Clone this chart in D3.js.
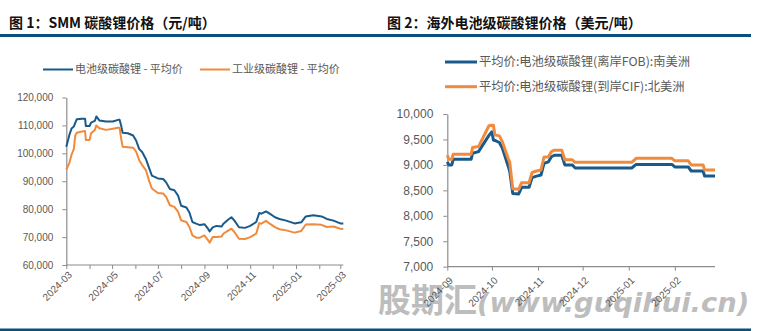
<!DOCTYPE html>
<html>
<head>
<meta charset="utf-8">
<script src="https://cdn.jsdelivr.net/npm/d3@7"></script>
<style>
  html, body { margin: 0; padding: 0; background: #fff; }
  svg { display: block; }
</style>
</head>
<body>
<svg id="chart" width="779" height="331"></svg>
<script>
// ---- Figure 1: SMM lithium carbonate prices (CNY/t) ----
const cnDates = [
  "2024-03-01","2024-03-05","2024-03-08","2024-03-11","2024-03-13","2024-03-15","2024-03-22","2024-03-26",
  "2024-03-27","2024-04-01","2024-04-03","2024-04-08","2024-04-10","2024-04-14","2024-04-23","2024-05-02",
  "2024-05-09","2024-05-11","2024-05-13","2024-05-15","2024-05-22","2024-05-29","2024-06-02","2024-06-06",
  "2024-06-10","2024-06-15","2024-06-19","2024-06-23","2024-07-01","2024-07-08","2024-07-12","2024-07-17",
  "2024-07-23","2024-07-28","2024-08-01","2024-08-08","2024-08-12","2024-08-16","2024-08-21","2024-08-26",
  "2024-09-01","2024-09-06","2024-09-08","2024-09-12","2024-09-17","2024-09-24","2024-09-26","2024-10-02",
  "2024-10-07","2024-10-11","2024-10-17","2024-10-25","2024-11-01","2024-11-09","2024-11-13","2024-11-16",
  "2024-11-22","2024-11-27","2024-12-04","2024-12-10","2024-12-19","2024-12-30","2025-01-08","2025-01-14",
  "2025-01-24","2025-02-04","2025-02-11","2025-02-20","2025-03-01","2025-03-05"
];
const cnBattery = [
  102400,106500,108900,109600,111000,112200,112400,112400,
  109800,109800,111000,111600,113200,111800,111400,111400,
  112000,112000,110000,107400,107200,106400,104600,101600,
  100500,98000,95000,92000,91000,90800,89600,87200,
  86800,84800,81200,80600,78800,75400,74800,74300,
  74600,72900,72000,73500,74000,73800,74700,76100,
  77100,75900,73500,73300,74000,75400,78600,78400,
  79200,78400,77100,76500,75900,74900,75300,77400,
  77800,77400,76500,75900,74900,74900
];
const cnIndustrial = [
  94200,96500,99500,101500,106500,107400,107800,108000,
  104800,104800,107200,108400,110000,109000,108400,108800,
  109200,109200,105400,102400,102200,102000,100600,97600,
  95800,94000,90400,87400,85800,85600,84400,81400,
  80800,79000,76000,75400,73600,70600,69800,69800,
  70600,68800,68000,70000,70000,70200,71200,72200,
  73000,71800,69400,69300,70000,71200,75000,74800,
  75800,74800,73600,72800,72400,71600,72200,74500,
  74600,74400,73600,73800,73000,72900
];
const cnYTicks = [60000,70000,80000,90000,100000,110000,120000];
const cnXLabels = ["2024-03","2024-05","2024-07","2024-09","2024-11","2025-01","2025-03"];
const cnSeriesNames = ["电池级碳酸锂 - 平均价","工业级碳酸锂 - 平均价"];

// ---- Figure 2: overseas battery-grade lithium carbonate (USD/t) ----
const gDates = [
  "2024-09-01","2024-09-02","2024-09-04","2024-09-05","2024-09-17","2024-09-18","2024-09-22","2024-09-29",
  "2024-10-01","2024-10-02","2024-10-03","2024-10-06","2024-10-08","2024-10-10","2024-10-12","2024-10-13",
  "2024-10-15","2024-10-19","2024-10-21","2024-10-26","2024-10-28","2024-10-31","2024-11-03","2024-11-05",
  "2024-11-08","2024-11-10","2024-11-12","2024-11-17","2024-11-19","2024-11-24","2024-11-26","2025-01-03",
  "2025-01-06","2025-01-30","2025-02-01","2025-02-10","2025-02-12","2025-02-20","2025-02-21","2025-02-28"
];
const gFobSouthAmerica = [
  9060,9000,9000,9110,9110,9230,9260,9580,
  9650,9490,9480,9440,9330,9150,8970,8870,
  8440,8430,8560,8560,8750,8780,8800,9030,
  9060,9160,9190,9190,9000,9000,8940,8940,
  9010,9010,8960,8960,8880,8880,8780,8780
];
const gCifNorthAmerica = [
  9190,9110,9110,9210,9210,9340,9360,9770,
  9780,9780,9590,9570,9456,9290,9120,9050,
  8530,8520,8650,8650,8850,8880,8900,9150,
  9160,9260,9290,9290,9100,9100,9050,9050,
  9130,9130,9080,9080,9000,9000,8900,8900
];
const gYTicks = [7000,7500,8000,8500,9000,9500,10000];
const gXLabels = ["2024-09","2024-10","2024-11","2024-12","2025-01","2025-02"];
const gSeriesNames = ["平均价:电池级碳酸锂(离岸FOB):南美洲","平均价:电池级碳酸锂(到岸CIF):北美洲"];

const BLUE = "#195a8c";
const ORANGE = "#f08a3c";
const RULE = "#0c4f7d";
const AXIS = "#8c8c8c";
const TEXT = "#595959";
const CJK = "'Noto Sans CJK SC', 'Noto Sans', sans-serif";
const NUM = "'Liberation Sans', Arial, sans-serif";

const parseDay = d3.timeParse("%Y-%m-%d");
const parseMonth = d3.timeParse("%Y-%m");
const fmtNum = d3.format(",");

const svg = d3.select("#chart");

// watermark
const wm = svg.append("text")
  .attr("x", 378).attr("y", 312)
  .attr("fill", "#bdbdbd")
  .style("font-weight", "bold");
wm.append("tspan").style("font-family", CJK).style("font-size", "33px").text("股期汇");
wm.append("tspan").style("font-family", "'DejaVu Sans', sans-serif").style("font-style", "italic")
  .style("font-size", "27.4px")
  .text("(www.guqihui.cn)");

// titles and rules
svg.append("text").attr("x", 9).attr("y", 28)
  .style("font-family", CJK).style("font-size", "14px").style("font-weight", "bold").attr("fill", "#111")
  .text("图 1：SMM 碳酸锂价格（元/吨）");
svg.append("text").attr("x", 387).attr("y", 28)
  .style("font-family", CJK).style("font-size", "14px").style("font-weight", "bold").attr("fill", "#111")
  .text("图 2：海外电池级碳酸锂价格（美元/吨）");
svg.append("rect").attr("x", 0).attr("y", 34).attr("width", 751).attr("height", 3).attr("fill", RULE);
svg.append("rect").attr("x", 0).attr("y", 328.5).attr("width", 751).attr("height", 2.5).attr("fill", RULE);

function styleAxis(g) {
  g.selectAll("path.domain").attr("stroke", AXIS).attr("stroke-width", 1.2);
  g.selectAll(".tick line").attr("stroke", AXIS).attr("stroke-width", 1);
}

function drawPanel(opts) {
  const g = svg.append("g");
  const x = d3.scaleTime().domain(opts.xDomain).range([opts.left, opts.right]);
  const y = d3.scaleLinear().domain(opts.yDomain).range([opts.bottom, opts.top]);

  // y axis
  const ya = g.append("g").attr("transform", `translate(${opts.left},0)`)
    .call(d3.axisLeft(y).tickValues(opts.yTicks).tickFormat(fmtNum).tickSize(4).tickSizeOuter(0).tickPadding(opts.yPad));
  styleAxis(ya);
  ya.selectAll("text").attr("fill", TEXT).style("font-family", NUM).style("font-size", opts.yFont + "px");

  // x axis: monthly ticks, labels on selected months
  const months = d3.timeMonth.range(opts.xDomain[0], d3.timeDay.offset(opts.xDomain[1], 1));
  const xa = g.append("g").attr("transform", `translate(0,${opts.bottom})`)
    .call(d3.axisBottom(x).tickValues(months).tickFormat("").tickSize(4).tickSizeOuter(0));
  styleAxis(xa);
  xa.select("path.domain").attr("d", `M${opts.left},0H${opts.right}`);
  g.append("g").selectAll("text").data(opts.xLabels).join("text")
    .attr("transform", d => `translate(${x(parseMonth(d)) + 4},${opts.bottom + opts.labelDrop}) rotate(-45)`)
    .attr("text-anchor", "end").attr("dy", "0.35em")
    .attr("fill", TEXT).style("font-family", NUM).style("font-size", "10px")
    .text(d => d);

  // series
  const dates = opts.dates.map(parseDay);
  opts.series.forEach(s => {
    const line = d3.line().x((d, i) => x(dates[i])).y(d => y(d));
    g.append("path").datum(s.values)
      .attr("fill", "none").attr("stroke", s.color).attr("stroke-width", opts.lineWidth)
      .attr("stroke-linejoin", "round")
      .attr("d", line);
  });

  // legend
  opts.series.forEach((s, i) => {
    const L = opts.legend[i];
    g.append("line").attr("x1", L.x).attr("x2", L.x + L.len).attr("y1", L.y).attr("y2", L.y)
      .attr("stroke", s.color).attr("stroke-width", opts.legendWidth);
    g.append("text").attr("x", L.x + L.len + 2).attr("y", L.y).attr("dy", "0.36em")
      .attr("fill", TEXT).style("font-family", CJK).style("font-size", opts.legendFont + "px")
      .text(s.name);
  });
}

drawPanel({
  left: 66.3, right: 343.3, top: 97.5, bottom: 265,
  xDomain: [parseDay("2024-03-01"), parseDay("2025-03-05")],
  yDomain: [60000, 120000],
  yTicks: cnYTicks, yFont: 10, yPad: 9,
  xLabels: cnXLabels, labelDrop: 8,
  dates: cnDates,
  lineWidth: 2,
  series: [
    { name: cnSeriesNames[0], values: cnBattery, color: BLUE },
    { name: cnSeriesNames[1], values: cnIndustrial, color: ORANGE }
  ],
  legend: [{ x: 43, y: 69.5, len: 30 }, { x: 200, y: 69.5, len: 30 }],
  legendWidth: 2, legendFont: 11
});

drawPanel({
  left: 447.3, right: 715, top: 114, bottom: 266.7,
  xDomain: [parseDay("2024-09-01"), parseDay("2025-02-28")],
  yDomain: [7000, 10000],
  yTicks: gYTicks, yFont: 12, yPad: 10,
  xLabels: gXLabels, labelDrop: 12,
  dates: gDates,
  lineWidth: 3,
  series: [
    { name: gSeriesNames[0], values: gFobSouthAmerica, color: BLUE },
    { name: gSeriesNames[1], values: gCifNorthAmerica, color: ORANGE }
  ],
  legend: [{ x: 445, y: 62, len: 32 }, { x: 445, y: 86.7, len: 32 }],
  legendWidth: 3, legendFont: 12.3
});
</script>
</body>
</html>
